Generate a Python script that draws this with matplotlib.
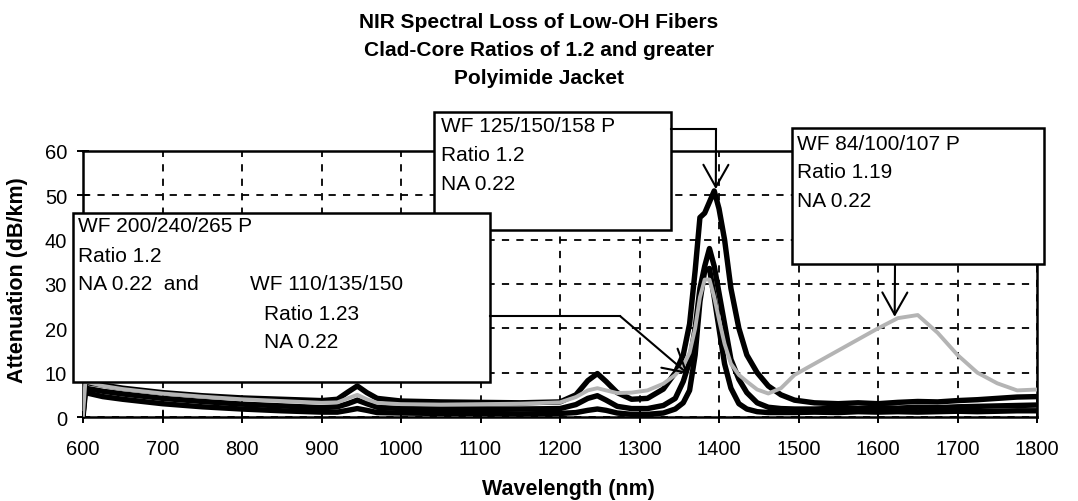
import matplotlib
matplotlib.use('Agg')
import matplotlib.pyplot as plt
from matplotlib.patches import Rectangle
from matplotlib.lines import Line2D

plt.rcParams['font.family'] = ['Liberation Sans', 'DejaVu Sans']

# ---------- data ----------
wavelength = [600, 603, 625, 650, 700, 750, 800, 850, 900, 920,
              933, 945, 957, 970, 1000, 1050, 1100, 1150, 1200, 1220,
              1235, 1247, 1258, 1272, 1290, 1310, 1330, 1345, 1355, 1363,
              1370, 1376, 1382, 1388, 1394, 1400, 1407, 1415, 1425, 1435,
              1448, 1462, 1478, 1495, 1520, 1550, 1575, 1600, 1625, 1650,
              1675, 1700, 1725, 1750, 1775, 1800]

wf125 = [0.5, 7.8, 7.2, 6.5, 5.5, 4.8, 4.3, 4.0, 3.7, 4.0,
         5.6, 7.0, 5.5, 4.2, 3.6, 3.4, 3.3, 3.2, 3.4, 5.0,
         8.2, 9.8, 8.0, 5.5, 4.0, 4.2, 6.3, 10.0, 14.0, 21.0,
         33.0, 45.0, 46.0, 48.5, 51.0, 47.0, 40.0, 29.0, 20.0, 14.0,
         10.0, 7.0, 5.0, 3.8, 3.2, 3.0, 3.2, 3.0, 3.3, 3.5,
         3.4, 3.7, 3.9, 4.2, 4.5, 4.6]

wf200 = [0.5, 6.5, 5.8, 5.2, 4.2, 3.5, 2.9, 2.5, 2.1, 2.3,
         3.0, 3.8, 3.0, 2.2, 1.9, 1.8, 1.8, 1.8, 1.9, 2.8,
         4.2, 4.8, 3.8, 2.4, 1.9, 1.9, 2.6, 4.2, 8.0, 12.5,
         20.0, 29.0, 34.0, 38.0, 34.0, 28.0, 21.0, 13.0, 8.5, 5.5,
         3.2, 2.2, 1.9, 1.8, 1.8, 2.0, 1.9, 2.1, 2.0, 2.2,
         2.1, 2.3, 2.4, 2.5, 2.6, 2.7]

wf110 = [0.0, 5.5, 4.6, 4.0, 3.0, 2.3, 1.8, 1.4, 1.1, 1.1,
         1.5, 1.9, 1.5, 1.0, 0.9, 0.8, 0.8, 0.7, 0.8, 1.0,
         1.5, 1.8, 1.5, 0.9, 0.6, 0.6, 0.9, 1.8, 3.2, 6.0,
         14.0, 26.0, 33.0, 33.5, 27.0, 20.0, 12.0, 6.5, 3.0, 1.8,
         1.2, 1.0, 1.0, 1.0, 1.1, 1.0, 1.2, 1.1, 1.2, 1.1,
         1.2, 1.3, 1.2, 1.3, 1.4, 1.4]

wf84 = [0.5, 8.0, 7.0, 6.3, 5.3, 4.6, 4.0, 3.6, 3.2, 3.3,
        4.2, 5.0, 4.0, 3.2, 2.9, 2.8, 2.9, 3.0, 3.3, 4.5,
        6.0, 6.5, 6.0, 5.4, 5.5, 6.0, 7.5, 9.5, 11.5, 14.5,
        20.0, 27.0, 31.0, 31.0, 27.0, 22.0, 16.5, 12.0, 9.5, 8.0,
        6.2, 5.3, 6.5, 9.5, 12.0, 15.0, 17.5, 20.0, 22.3, 23.0,
        19.0, 14.0, 10.0, 7.6, 6.0, 6.2]

x_ticks = list(range(600, 1801, 100))
y_ticks = list(range(0, 61, 10))

title_lines = ['NIR Spectral Loss of Low-OH Fibers',
               'Clad-Core Ratios of 1.2 and greater',
               'Polyimide Jacket']

# ---------- figure in pixel terms ----------
W, H = 1078, 502
def fx(x):
    return x / W
def fy(y):
    return 1 - y / H

fig = plt.figure(figsize=(W / 100, H / 100), dpi=100)
ax = fig.add_axes([fx(83), fy(418), (1037 - 83) / W, (418 - 152) / H])

for series in (wf125, wf200, wf110):
    ax.plot(wavelength, series, color='black', lw=3.9,
            solid_joinstyle='round', zorder=3)
ax.plot(wavelength, wf84, color='#b4b4b4', lw=2.8, solid_joinstyle='round', zorder=4)

ax.set_xlim(600, 1800)
ax.set_ylim(0, 60)
ax.set_xticks(x_ticks)
ax.set_yticks(y_ticks)
ax.grid(True, color='black', linestyle=(0, (4, 4)), lw=1.3)
ax.set_axisbelow(True)
for s in ax.spines.values():
    s.set_linewidth(1.8)
ax.tick_params(direction='inout', length=9, width=1.4, labelsize=14.5, pad=7)
ax.tick_params(axis='x', pad=11)

# titles and axis labels
for i, t in enumerate(title_lines):
    fig.text(0.5, fy(22 + 28 * i), t, ha='center', va='center',
             fontsize=15, fontweight='bold')
fig.text(fx(568), fy(490), 'Wavelength (nm)', ha='center', va='center',
         fontsize=15.5, fontweight='bold')
fig.text(fx(18), fy(280), 'Attenuation (dB/km)', ha='center', va='center',
         rotation=90, fontsize=15.5, fontweight='bold')

# ---------- callout boxes ----------
def box(l, t, r, b):
    fig.add_artist(Rectangle((fx(l), fy(b)), (r - l) / W, (b - t) / H,
                             transform=fig.transFigure, fc='white',
                             ec='black', lw=1.8, zorder=5))

def seg(xs, ys):
    fig.add_artist(Line2D([fx(v) for v in xs], [fy(v) for v in ys],
                          transform=fig.transFigure, color='black',
                          lw=1.5, zorder=5))

def arrow(x0, y0, tip):
    ax.annotate('', xy=tip, xycoords='data', xytext=(fx(x0), fy(y0)),
                textcoords='figure fraction', annotation_clip=False,
                arrowprops=dict(arrowstyle='->,head_length=0.8,head_width=0.45',
                                color='black', lw=1.5, shrinkA=0, shrinkB=0,
                                mutation_scale=20), zorder=6)

def label(x, y, s):
    fig.text(fx(x), fy(y), s, ha='left', va='center', fontsize=15, zorder=6)

# WF 125/150/158 P
box(434, 113, 671, 231)
seg([671, 716], [130, 130])
arrow(716, 130, (1396, 51.4))
label(441, 127, 'WF 125/150/158 P')
label(441, 156, 'Ratio 1.2')
label(441, 185, 'NA 0.22')

# WF 84/100/107 P
box(792, 129, 1044, 265)
arrow(895, 265, (1621, 22.6))
label(797, 145, 'WF 84/100/107 P')
label(797, 173, 'Ratio 1.19')
label(797, 202, 'NA 0.22')

# WF 200/240/265 P and WF 110/135/150
box(73, 214, 490, 383)
seg([490, 620], [317, 317])
arrow(620, 317, (1361, 9.7))
label(78, 227, 'WF 200/240/265 P')
label(78, 256, 'Ratio 1.2')
label(78, 285, 'NA 0.22  and')
label(250, 285, 'WF 110/135/150')
label(264, 314, 'Ratio 1.23')
label(264, 343, 'NA 0.22')

fig.savefig('out.png', dpi=100)
